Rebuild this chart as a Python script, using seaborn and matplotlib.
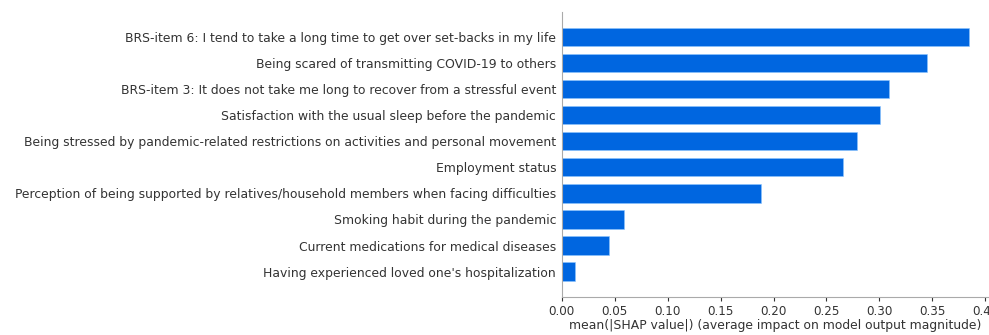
import matplotlib
matplotlib.use("Agg")
import matplotlib.pyplot as plt
import seaborn as sns
import pandas as pd

# Features (top to bottom) and mean |SHAP| values
features = [
    "BRS-item 6: I tend to take a long time to get over set-backs in my life",
    "Being scared of transmitting COVID-19 to others",
    "BRS-item 3: It does not take me long to recover from a stressful event",
    "Satisfaction with the usual sleep before the pandemic",
    "Being stressed by pandemic-related restrictions on activities and personal movement",
    "Employment status",
    "Perception of being supported by relatives/household members when facing difficulties",
    "Smoking habit during the pandemic",
    "Current medications for medical diseases",
    "Having experienced loved one's hospitalization",
]
shap_values = [0.385, 0.345, 0.309, 0.3005, 0.279, 0.266, 0.188, 0.0587, 0.0447, 0.0123]
xticks = [0.00, 0.05, 0.10, 0.15, 0.20, 0.25, 0.30, 0.35, 0.40]

df = pd.DataFrame({"feature": features, "value": shap_values})

sns.set_style("white")
plt.rcParams["font.family"] = ["DejaVu Sans"]

fig = plt.figure(figsize=(9.89, 3.35), dpi=100)
ax = fig.add_axes([0.568, 0.113, 0.432, 0.851])

sns.barplot(data=df, x="value", y="feature", color="#0066e0", saturation=1,
            width=0.7, edgecolor="#8cc4ff", linewidth=0.4, ax=ax)

ax.set_xlim(0, 0.4035)
ax.set_ylim(9.98, -0.96)
ax.set_xticks(xticks)
ax.set_xticklabels([f"{t:.2f}" for t in xticks])
ax.set_ylabel("")
ax.set_xlabel("mean(|SHAP value|) (average impact on model output magnitude)",
              fontsize=8.9, color="#333333", labelpad=1)
ax.tick_params(axis="y", length=0, labelsize=8.95, labelcolor="#333333", pad=4)
ax.tick_params(axis="x", length=3, labelsize=8.6, labelcolor="#333333",
               color="#333333", bottom=True, pad=2.5)
for side in ["top", "right"]:
    ax.spines[side].set_visible(False)
for side in ["left", "bottom"]:
    ax.spines[side].set_color("#aaaaaa")
    ax.spines[side].set_linewidth(0.8)

fig.savefig("out.png", dpi=100)
